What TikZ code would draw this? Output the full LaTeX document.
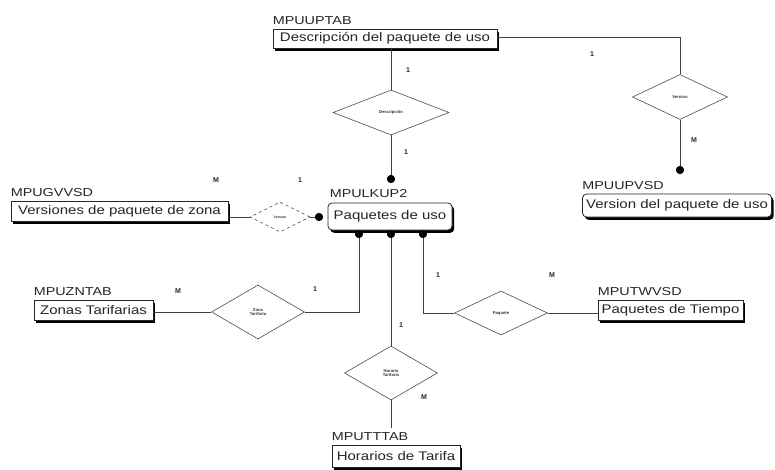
\documentclass[tikz,border=0pt]{standalone}
\usepackage{fontspec}
\setmainfont{Liberation Sans}
\newfontfamily\boxfont[FakeStretch=1.2]{Liberation Sans}
\newfontfamily\lblfont[FakeStretch=1.25]{Liberation Sans}
\usetikzlibrary{shapes.geometric,shadows}
\tikzset{
  ent/.style={draw=black!85, line width=0.8pt, fill=white, inner sep=0pt,
    font=\boxfont\fontsize{12.5}{14}\selectfont, text=black!85,
    drop shadow={shadow xshift=2.2pt, shadow yshift=-2.8pt, fill=black, opacity=1}},
  rent/.style={ent, rounded corners=4pt},
  tag/.style={anchor=base west, inner sep=0pt, font=\lblfont\fontsize{11.5}{13}\selectfont, text=black!85},
  rel/.style={diamond, draw=black!70, line width=0.6pt, inner sep=0pt, align=center,
    font=\bfseries\fontsize{4.2}{4.8}\selectfont, text=black!80},
  card/.style={inner sep=0pt, font=\bfseries\fontsize{7}{8}\selectfont, text=black!85},
  conn/.style={draw=black!75, line width=0.8pt},
  dot/.style={circle, fill=black, inner sep=0pt, minimum size=8pt}
}
\begin{document}
\begin{tikzpicture}[x=1pt,y=-1pt]
\useasboundingbox (0,0) rectangle (775,470);
% entities
\node[ent, minimum width=224pt, minimum height=19pt] (desc) at (385,38.5) {Descripción del paquete de uso};
\node[ent, minimum width=217pt, minimum height=20pt] (verz) at (119.5,211) {Versiones de paquete de zona};
\node[rent, minimum width=124pt, minimum height=27pt] (paq) at (390,216.5) {Paquetes de uso};
\node[rent, minimum width=189pt, minimum height=23pt] (vpu) at (677,205.5) {Version del paquete de uso};
\node[ent, minimum width=119pt, minimum height=20pt] (zon) at (93.5,310) {Zonas Tarifarias};
\node[ent, minimum width=145pt, minimum height=20pt] (tiem) at (670.5,310) {Paquetes de Tiempo};
\node[ent, minimum width=128pt, minimum height=22pt] (hor) at (396,456) {Horarios de Tarifa};
% tags
\node[tag] (tdesc) at ([yshift=4.5pt]desc.north west) {MPUUPTAB};
\node[tag] (tverz) at ([yshift=4.5pt]verz.north west) {MPUGVVSD};
\node[tag] (tpaq) at ([xshift=2pt,yshift=5.5pt]paq.north west) {MPULKUP2};
\node[tag] (tvpu) at ([yshift=4.5pt]vpu.north west) {MPUUPVSD};
\node[tag] (tzon) at ([yshift=4.5pt]zon.north west) {MPUZNTAB};
\node[tag] (ttiem) at ([yshift=4.5pt]tiem.north west) {MPUTWVSD};
\node[tag] (thor) at ([yshift=4.5pt]hor.north west) {MPUTTTAB};
% relationships
\node[rel, minimum width=116pt, minimum height=45pt] (ddesc) at (391,112.5) {Descripción};
\node[rel, dashed, minimum width=60pt, minimum height=30pt, font=\bfseries\fontsize{3.5}{4}\selectfont] (dver) at (280,217) {Version};
\node[rel, minimum width=93pt, minimum height=54pt] (dzon) at (258,312) {Zona\\Tarifaria};
\node[rel, minimum width=93pt, minimum height=44pt] (dpaq) at (501,313) {Paquete};
\node[rel, minimum width=93pt, minimum height=54pt] (dhor) at (391,373) {Horario\\Tarifario};
\node[rel, minimum width=95pt, minimum height=45pt] (dvers) at (680,97) {Version};
% dots
\node[dot] (p1) at (391,179) {};
\node[dot] (p2) at (319,217) {};
\node[dot] (p3) at (359,234) {};
\node[dot] (p4) at (391,234) {};
\node[dot] (p5) at (423,234) {};
\node[dot] (p6) at (680,170) {};
\coordinate (hend) at (391,428);
% connectors
\draw[conn] (desc.south -| ddesc.north) -- (ddesc.north);
\draw[conn] (ddesc.south) -- (p1.center);
\draw[conn] ([yshift=1pt]desc.east) -| (dvers.north);
\draw[conn] (dvers.south) -- (p6.center);
\draw[conn] (dver.west -| verz.east) -- (dver.west);
\draw[conn] (dver.east) -- (p2.center);
\draw[conn] (p3.center) |- (dzon.east);
\draw[conn] (dzon.west -| zon.east) -- (dzon.west);
\draw[conn] (p4.center) -- (dhor.north);
\draw[conn] (dhor.south) -- (hend);
\draw[conn] (p5.center) |- (dpaq.west);
\draw[conn] (dpaq.east) -- (dpaq.east -| tiem.west);
% redraw dots on top
\foreach \d in {p1,p2,p3,p4,p5,p6} \fill (\d) circle (4pt);
% cardinalities
\node[card] (c1) at (408,70) {1};
\node[card] (c2) at (406,152) {1};
\node[card] (c3) at (592,54) {1};
\node[card] (c4) at (694,140) {M};
\node[card] (c5) at (216,180) {M};
\node[card] (c6) at (300,180) {1};
\node[card] (c7) at (178,291) {M};
\node[card] (c8) at (315,289) {1};
\node[card] (c9) at (438,275) {1};
\node[card] (c10) at (552,275) {M};
\node[card] (c11) at (401,325) {1};
\node[card] (c12) at (424,397) {M};
\end{tikzpicture}
\end{document}
